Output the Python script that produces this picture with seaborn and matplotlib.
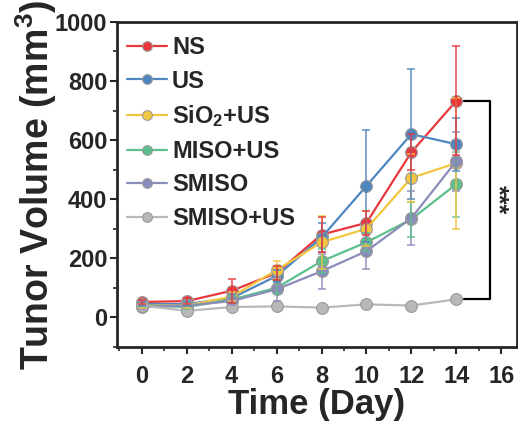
import numpy as np
import pandas as pd
import matplotlib
matplotlib.use("Agg")
import matplotlib.pyplot as plt
import seaborn as sns
from matplotlib.ticker import MultipleLocator

days = [0, 2, 4, 6, 8, 10, 12, 14]
groups = ["NS", "US", "SiO$_2$+US", "MISO+US", "SMISO", "SMISO+US"]
ns = [52, 55, 90, 150, 280, 320, 559, 733]
us = [45, 45, 65, 140, 270, 445, 620, 586]
sio2 = [40, 40, 70, 160, 254, 300, 472, 522]
miso = [40, 35, 60, 100, 190, 254, 332, 451]
smiso = [35, 40, 55, 95, 156, 224, 336, 529]
smiso_us = [40, 22, 35, 37, 33, 44, 40, 61]
ns_err = [8, 10, 40, 25, 60, 40, 60, 185]
us_err = [8, 8, 15, 20, 50, 190, 220, 90]
sio2_err = [8, 8, 15, 30, 90, 60, 80, 222]
miso_err = [6, 8, 12, 20, 40, 30, 60, 110]
smiso_err = [6, 8, 12, 40, 60, 60, 90, 100]
smiso_us_err = [5, 5, 8, 8, 6, 8, 6, 10]

colors = ["#E8383D", "#4F86C0", "#F3C640", "#5CBF8C", "#8A8CBA", "#B8B8B8"]
means = [ns, us, sio2, miso, smiso, smiso_us]
errs = [ns_err, us_err, sio2_err, miso_err, smiso_err, smiso_us_err]

rows = []
for g, m in zip(groups, means):
    for d, v in zip(days, m):
        rows.append({"Day": d, "Volume": v, "Group": g})
df = pd.DataFrame(rows)

sns.set_style("ticks")
plt.rcParams["font.family"] = ["Liberation Sans", "DejaVu Sans"]
plt.rcParams["font.weight"] = "bold"
plt.rcParams["mathtext.default"] = "regular"

fig = plt.figure(figsize=(5.18, 4.21), dpi=100)
ax = fig.add_axes([0.226, 0.176, 0.772, 0.772])

zorders = [8, 7, 6, 5, 4, 3]
for g, m, e, c, z in zip(groups, means, errs, colors, zorders):
    ax.errorbar(days, m, yerr=e, fmt="none", ecolor=c, elinewidth=1.2,
                capsize=3, capthick=1.2, zorder=z - 0.5, alpha=0.85)

sns.lineplot(data=df, x="Day", y="Volume", hue="Group", hue_order=groups,
             palette=colors, marker="o", markersize=8.5, linewidth=1.6,
             markeredgecolor="#9a9a9a", markeredgewidth=0.8, ax=ax,
             legend=True)
for line, z in zip(ax.lines[-len(groups):], zorders):
    line.set_zorder(z)

# significance bracket
ax.plot([14.35, 15.5, 15.5, 14.35], [733, 733, 62, 62], color="black",
        lw=1.6, clip_on=False, zorder=9)
ax.text(15.85, 400, "***", rotation=270, ha="center", va="center",
        fontsize=18, fontweight="bold")

ax.set_xlim(-1.1, 16.7)
ax.set_ylim(-100, 1000)
ax.set_xticks([0, 2, 4, 6, 8, 10, 12, 14, 16])
ax.set_yticks([0, 200, 400, 600, 800, 1000])
ax.xaxis.set_minor_locator(MultipleLocator(1))
ax.yaxis.set_minor_locator(MultipleLocator(100))
ax.tick_params(axis="both", which="major", labelsize=17, width=1.5, length=5,
               direction="out", pad=2)
ax.tick_params(axis="x", which="major", pad=8)
ax.tick_params(axis="both", which="minor", width=1.2, length=3, direction="out")
for lab in ax.get_xticklabels() + ax.get_yticklabels():
    lab.set_fontweight("bold")
for s in ax.spines.values():
    s.set_linewidth(2)
    s.set_visible(True)

ax.set_xlabel("Time (Day)", fontsize=25, fontweight="bold", labelpad=0)
ax.set_ylabel("Tunor Volume (mm$^3$)", fontsize=27, fontweight="bold", labelpad=-3)

leg = ax.legend(loc="upper left", frameon=False, fontsize=17,
                handlelength=1.7, handletextpad=0.2, labelspacing=0.45,
                borderaxespad=0.2, bbox_to_anchor=(-0.01, 1.0))
for t in leg.get_texts():
    t.set_fontweight("bold")
for h in leg.legend_handles:
    h.set_markersize(7)

fig.savefig("out.png", dpi=100)
